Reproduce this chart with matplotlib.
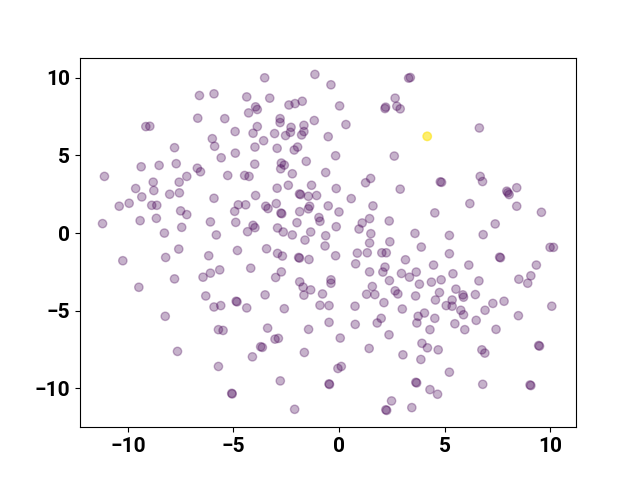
import matplotlib
matplotlib.use("Agg")
import matplotlib.pyplot as plt
import numpy as np

# (x, y) positions, grouped by region
x_vals = [
    -6.61, -6.69, -9.15, -8.96, -7.79, -9.37, -8.52, -7.71, -6.71, -6.56, -11.11, -7.21,
    -3.52, -1.14, -5.92, -4.37, -3.28, -3.95, -3.87, -4.28, -2.37, -2.08, -1.74, -5.41,
    -2.79, -2.79, -1.17, -3.87, -4.92, -4.07, -3.05, -2.27, -2.30, -2.53, -1.66, -1.66,
    -1.77, -0.51, -6.0, -5.89, -3.57, -3.98, -2.93, -1.96, -2.12, -5.58, -4.91, -3.99,
    -2.73, -2.59, -2.76, -1.55, -0.63, -2.21, -5.27, -4.47, -4.26,
    -0.38, 3.30, 3.38, 0.03, 2.66, 2.18, 2.21, 2.74, 2.90, 0.33, -0.16, 2.62, 1.50, 4.80, 4.86,
    6.65, 6.69, 6.80,
    -8.80, -7.57, -9.63, -8.77, -9.34, -8.02, -7.56, -10.41, -9.94, -8.87, -8.63, -7.50,
    -7.21, -11.20, -9.42, -8.65, -8.27, -7.45, -7.59, -8.21, -10.24, -7.79, -6.44, -9.48,
    -2.93, -2.40, -1.30, -5.92, -3.95, -1.87, -1.82, -1.45, -1.06, -4.77, -4.42, -4.94,
    -3.47, -3.36, -2.97, -2.75, -2.71, -1.86, -1.39, -1.45, -0.51, -6.09, -4.89, -4.07,
    -3.98, -4.33, -2.91, -2.64, -1.99, -2.21, -1.34, -0.95, -0.90, -5.81, -0.63, -1.61,
    -6.17, -4.81, -3.43, -2.91, -2.68, -1.91, -1.87, -1.42, -0.66, -6.09, -5.65, -4.18,
    -2.73, -3.00, -1.86, -1.70, -1.66, -1.34, -0.78, -6.31, -3.50, -4.87, -4.83,
    1.26, -0.13, 2.90, 0.58, 0.0, 1.61, 4.54, 1.45, 1.10, 0.95, 2.38, -0.13, 1.51, 1.45,
    2.41, 3.60, 5.23, 3.90, -0.16, 0.87, 1.34, 2.03, 2.24, 3.15, 5.23, 0.79, 4.48, 2.18,
    2.08, 1.45, 2.96, 3.34, 3.66, 2.39, -0.38, -0.38, 3.81, 4.38, 4.84, 1.58, 1.31, 1.70,
    2.66, 2.79, 3.63, 4.76, 4.57, 2.13,
    8.42, 7.95, 8.0, 8.06, 6.20, 8.42, 9.59, 7.40, 6.83, 10.0, 10.16, 7.61, 7.65, 6.15,
    9.35, 5.40, 9.09, 8.94, 8.52, 6.63, 5.54, 5.87, 5.90, 6.46, 5.36, 7.29, 7.82,
    -8.23, -7.65,
    -5.92, -5.60, -4.37, -2.59, -0.90, -0.47, -5.71, -5.49, -3.38, -3.03, -2.87, -1.44,
    -0.47, -3.71, -3.63, -4.10, -1.64, -5.71, -2.78, -5.08, -5.06, -0.47, -0.45, -2.10,
    0.76, 3.00, 4.05, 3.75, 3.69, 4.54, 5.08, 5.36, 0.77, 1.81, 2.00, 4.31, 0.06, 2.37,
    1.43, 3.93, 4.19, 4.70, 3.03, 3.88, -0.05, 0.11, 5.23, 3.64, 3.68, 4.31, 4.67, 2.49,
    2.22, 2.26, 3.45,
    5.77, 5.90, 6.92, 10.08, 5.49, 5.96, 6.50, 7.44, 8.50, 6.77, 6.91, 9.46, 9.50, 6.81,
    9.05, 9.09,
    4.18, 4.18, 4.18,
]
y_vals = [
    8.86, 7.40, 6.86, 6.88, 5.50, 4.27, 4.36, 4.47, 4.18, 3.95, 3.65, 3.65,
    10.0, 10.22, 8.97, 8.77, 8.69, 8.13, 7.96, 7.74, 8.25, 8.34, 8.49, 7.37,
    7.37, 7.12, 7.25, 6.86, 6.54, 6.43, 6.41, 6.81, 6.49, 6.28, 6.94, 6.54,
    6.32, 6.21, 6.08, 5.59, 5.95, 5.54, 5.46, 5.54, 5.35, 4.85, 5.15, 4.44,
    4.51, 4.38, 4.14, 4.62, 3.90, 3.82, 3.71, 3.71, 3.65,
    9.55, 9.98, 10.02, 8.19, 8.69, 8.02, 8.11, 8.17, 8.00, 6.99, 4.98, 4.96, 3.52, 3.30, 3.27,
    6.77, 3.65, 3.32,
    3.28, 3.28, 2.87, 2.74, 2.33, 2.50, 2.59, 1.73, 1.92, 1.79, 1.79, 1.43,
    1.19, 0.61, 0.80, 0.95, 0.0, 0.37, -1.03, -1.57, -1.78, -2.95, -2.84, -3.49,
    2.89, 3.08, 3.08, 2.24, 2.42, 2.52, 2.48, 2.37, 2.42, 1.82, 1.82, 1.40,
    1.73, 1.58, 1.90, 1.29, 1.25, 1.38, 1.73, 1.56, 1.75, 0.72, 0.69, 0.50,
    0.35, 0.09, 0.33, 0.07, 0.67, -0.12, 0.07, 1.00, 0.76, -0.12, -0.17, -0.45,
    -1.46, -1.12, -1.01, -1.31, -1.48, -1.57, -1.61, -1.70, -0.83, -2.58, -2.37, -2.26,
    -2.50, -2.86, -3.14, -3.48, -4.0, -3.66, -3.92, -4.05, -3.98, -4.39, -4.43,
    3.24, 2.87, 2.83, 2.22, 1.36, 1.75, 1.30, 0.93, 0.65, 0.26, 0.78, 0.41, -0.04, -0.64,
    -0.56, -0.02, -0.15, -0.90, -1.46, -1.29, -1.27, -1.27, -1.27, -1.72, -1.33, -1.98, -2.06, -2.19,
    -2.51, -2.50, -2.60, -2.84, -2.51, -3.06, -3.01, -3.23, -3.29, -3.16, -3.01, -3.44, -3.94, -3.96,
    -3.72, -3.92, -4.05, -3.83, -4.31, -4.48,
    2.92, 2.70, 2.6, 2.48, 1.90, 1.73, 1.34, 0.59, -0.10, -0.92, -0.92, -1.55, -1.59, -2.06,
    -2.06, -2.62, -2.75, -3.23, -2.97, -3.08, -3.61, -3.98, -4.13, -3.96, -4.31, -4.53, -4.39,
    -5.36, -7.62,
    -4.76, -4.67, -4.82, -4.87, -4.65, -4.67, -6.22, -6.27, -6.12, -6.83, -6.78, -6.20,
    -5.75, -7.32, -7.36, -7.97, -7.69, -8.59, -9.52, -10.32, -10.36, -9.71, -9.75, -11.35,
    -4.71, -4.89, -5.15, -5.36, -5.79, -5.49, -4.67, -4.71, -5.88, -5.79, -5.49, -6.22, -6.76, -6.55,
    -7.43, -7.10, -7.39, -7.52, -7.84, -8.14, -8.72, -8.59, -8.96, -9.61, -9.65, -10.08, -10.38, -10.81,
    -11.38, -11.42, -11.24,
    -4.97, -5.26, -4.97, -4.71, -5.84, -6.22, -5.62, -6.20, -5.32, -7.52, -7.73, -7.24, -7.28, -9.74,
    -9.78, -9.82,
    6.23, 6.23, 6.23,
]
# class label of each point (0 = majority class, 1 = the highlighted points)
n_highlight = 3
labels = [0] * (len(x_vals) - n_highlight) + [1] * n_highlight

x_ticks = [-10, -5, 0, 5, 10]
y_ticks = [-10, -5, 0, 5, 10]

plt.rcParams['font.family'] = ['Roboto', 'DejaVu Sans']
plt.rcParams['font.weight'] = 'bold'

fig, ax = plt.subplots(figsize=(6.4, 4.8), dpi=100)
ax.scatter(x_vals, y_vals, c=labels, cmap='viridis', alpha=0.3)
ax.set_xticks(x_ticks)
ax.set_yticks(y_ticks)
ax.tick_params(labelsize=15)
for lab in ax.get_xticklabels() + ax.get_yticklabels():
    lab.set_fontweight('bold')
fig.savefig("out.png", dpi=100)
